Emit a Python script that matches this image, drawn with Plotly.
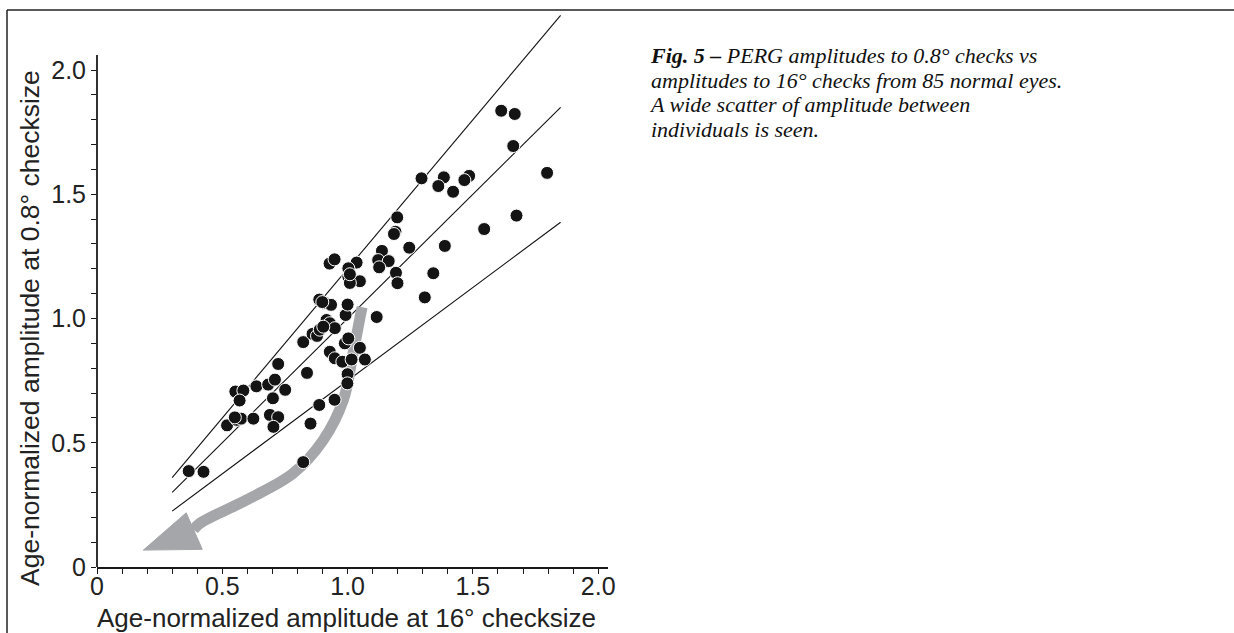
import plotly.graph_objects as go

# PERG amplitudes, age-normalized: 16 deg checks (x) vs 0.8 deg checks (y)
amp_16 = [
    0.366, 0.425, 0.519, 0.558, 0.575, 0.624, 0.690, 0.723, 0.704, 0.552,
    0.584, 0.569, 0.636, 0.683, 0.710, 0.723, 0.751, 0.702, 0.838, 0.852,
    0.823, 0.887, 0.948, 1.000, 0.999, 0.823, 0.860, 0.878, 0.889, 0.916,
    0.929, 0.949, 0.903, 0.992, 0.887, 0.909, 0.934, 1.000, 0.989, 1.003,
    1.049, 0.929, 0.949, 0.979, 1.016, 1.069, 0.928, 0.948, 1.036, 1.003,
    1.003, 1.049, 1.009, 1.116, 1.137, 1.122, 1.164, 1.126, 1.193, 1.199,
    1.198, 1.191, 1.185, 1.246, 1.388, 1.342, 1.308, 1.295, 1.384, 1.362,
    1.485, 1.466, 1.421, 1.545, 1.613, 1.667, 1.661, 1.796, 1.674, 0.550,
    0.899, 1.009,
]
amp_08 = [
    0.386, 0.383, 0.570, 0.592, 0.597, 0.597, 0.612, 0.603, 0.564, 0.706,
    0.710, 0.670, 0.727, 0.734, 0.754, 0.817, 0.713, 0.679, 0.781, 0.577,
    0.422, 0.652, 0.673, 0.776, 0.739, 0.905, 0.938, 0.930, 0.955, 0.994,
    0.981, 0.961, 0.967, 1.014, 1.076, 1.062, 1.055, 1.056, 0.900, 0.920,
    0.882, 0.866, 0.840, 0.826, 0.835, 0.835, 1.221, 1.238, 1.225, 1.202,
    1.168, 1.150, 1.143, 1.006, 1.272, 1.235, 1.231, 1.206, 1.184, 1.142,
    1.407, 1.349, 1.340, 1.285, 1.292, 1.182, 1.085, 1.564, 1.568, 1.533,
    1.574, 1.557, 1.510, 1.360, 1.836, 1.823, 1.694, 1.586, 1.414, 0.602,
    1.066, 1.178,
]

# reference lines (slope 1.2, 1.0, 0.75), end points
line_x = [0.3, 1.85]
upper_y = [0.36, 2.22]
middle_y = [0.30, 1.85]
lower_y = [0.225, 1.3875]

# grey curved arrow (shaft centre line and head)
arrow_x = [1.058, 1.050, 1.020, 0.983, 0.903, 0.783, 0.597, 0.411, 0.385]
arrow_y = [1.046, 1.007, 0.850, 0.672, 0.511, 0.377, 0.270, 0.176, 0.150]
head_x = [0.356, 0.185, 0.420, 0.356]
head_y = [0.218, 0.068, 0.071, 0.218]

tick_vals = [round(i * 0.1, 1) for i in range(21)]
tick_text = ["0", "", "", "", "", "0.5", "", "", "", "", "1.0",
             "", "", "", "", "1.5", "", "", "", "", "2.0"]

caption = [
    "<b>Fig. 5 –</b> PERG amplitudes to 0.8° checks vs",
    "amplitudes to 16° checks from 85 normal eyes.",
    "A wide scatter of amplitude between",
    "individuals is seen.",
]

W, H = 1234, 633
L, R, T, B = 97, 626, 6, 66
PX_X, PX_Y = 250.6, 248.5


def px(xp):
    return (xp - L) / (W - L - R)


def py(yp):
    return (H - B - yp) / (H - T - B)


fig = go.Figure()
for ys in (upper_y, middle_y, lower_y):
    fig.add_trace(go.Scatter(x=line_x, y=ys, mode="lines",
                             line=dict(color="#111111", width=1.1),
                             showlegend=False, hoverinfo="skip"))

fig.add_trace(go.Scatter(x=arrow_x, y=arrow_y, mode="lines",
                         line=dict(color="#a4a6a9", width=11, shape="spline"),
                         showlegend=False, hoverinfo="skip"))
fig.add_trace(go.Scatter(x=head_x, y=head_y, mode="lines", fill="toself",
                         fillcolor="#a4a6a9", line=dict(color="#a4a6a9", width=1),
                         showlegend=False, hoverinfo="skip"))

fig.add_trace(go.Scatter(x=amp_16, y=amp_08, mode="markers",
                         marker=dict(size=13, color="#141414",
                                     line=dict(color="white", width=1)),
                         showlegend=False))

font = "Liberation Sans, Arial, sans-serif"
axis_style = dict(showgrid=False, zeroline=False, ticks="outside", ticklen=5,
                  tickwidth=1.3, tickcolor="#1a1a1a", tickvals=tick_vals,
                  ticktext=tick_text, tickfont=dict(size=25))
fig.update_layout(
    width=W, height=H,
    margin=dict(l=L, r=R, t=T, b=B),
    plot_bgcolor="white", paper_bgcolor="white",
    font=dict(family=font, size=25, color="#222222"),
    xaxis=dict(range=[0, (W - L - R) / PX_X], showline=True,
               linecolor="#1a1a1a", linewidth=1.8, ticklabelstandoff=-9,
               **axis_style),
    yaxis=dict(range=[0, (H - T - B) / PX_Y], showline=False, **axis_style),
)

# y axis line stops at 2.06 while the upper line runs past it
fig.add_shape(type="line", xref="paper", yref="y", x0=0, x1=0, y0=0, y1=2.06,
              line=dict(color="#1a1a1a", width=1.8))

# page frame (left and top rules)
fig.add_shape(type="line", xref="paper", yref="paper", x0=px(7), x1=px(7),
              y0=py(10), y1=py(640), line=dict(color="#222222", width=1.5))
fig.add_shape(type="line", xref="paper", yref="paper", x0=px(7), x1=px(1234),
              y0=py(10), y1=py(10), line=dict(color="#222222", width=1.5))

fig.add_annotation(text="Age-normalized amplitude at 16° checksize",
                   xref="paper", yref="paper", x=px(346), y=py(618),
                   xanchor="center", yanchor="middle",
                   showarrow=False, font=dict(size=26))
fig.add_annotation(text="Age-normalized amplitude at 0.8° checksize",
                   xref="paper", yref="paper", x=px(30), y=py(328),
                   xanchor="center", yanchor="middle",
                   textangle=-90, showarrow=False, font=dict(size=26.5))

# caption: line pitch from the base size, glyphs a little larger
cap_text = "<br>".join("<span style='font-size:22px'><i>%s</i></span>" % s
                       for s in caption)
fig.add_annotation(text=cap_text, xref="paper", yref="paper",
                   x=px(647), y=py(41), xanchor="left", yanchor="top",
                   align="left", showarrow=False,
                   font=dict(family="Liberation Serif, Times New Roman, serif",
                             size=19, color="#111111"))

fig.write_html("out.html", config={"displayModeBar": False},
               post_script="document.body.style.margin='0';"
                           "document.body.style.overflow='hidden';")
